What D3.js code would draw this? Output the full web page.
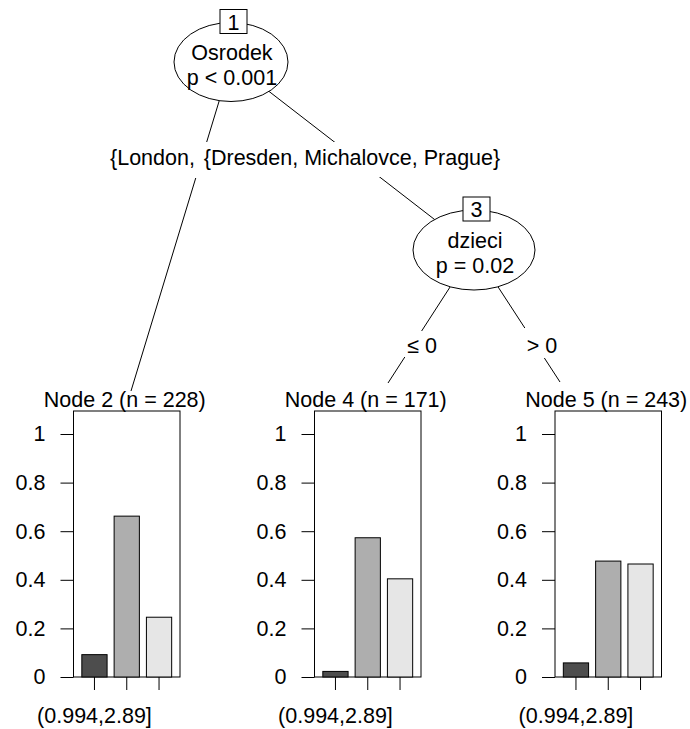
<!DOCTYPE html>
<html>
<head>
<meta charset="utf-8">
<script src="https://cdn.jsdelivr.net/npm/d3@7"></script>
<style>
  html, body { margin: 0; padding: 0; background: #fff; }
  svg { display: block; }
  text { font-family: "Liberation Sans", Arial, sans-serif; fill: #000; }
</style>
</head>
<body>
<svg id="chart" width="690" height="729"></svg>
<script>
// ---- tree content ----
const innerIds   = [1, 3];
const innerVars  = ["Osrodek", "dzieci"];
const innerPvals = ["p < 0.001", "p = 0.02"];

const terminalIds = [2, 4, 5];
const terminalN   = [228, 171, 243];

// class proportions in each terminal node
const classes     = ["c1", "c2", "c3"];
const propsNode2  = [0.092, 0.662, 0.246];
const propsNode4  = [0.023, 0.573, 0.404];
const propsNode5  = [0.058, 0.477, 0.465];

const xTickLabels = ["(0.994,2.89]", "", ""];
const yTicks      = [0, 0.2, 0.4, 0.6, 0.8, 1];

const splitLeftLabel  = "{London,";
const splitRightLabel = "{Dresden, Michalovce, Prague}";
const dzieciLeft  = "\u2264 0";
const dzieciRight = "> 0";

const barFill = ["#4D4D4D", "#AEAEAE", "#E6E6E6"];

// ---- layout ----
const FS = 21.5;
const svg = d3.select("#chart");
const gEdges = svg.append("g");
const gLabels = svg.append("g");
const gNodes = svg.append("g");
const gPanels = svg.append("g");

const innerPos = [{x: 231, y: 62, rx: 57, ry: 39.5}, {x: 474, y: 250, rx: 61, ry: 40}];
const panelLeft = [73.5, 314.5, 555];
const panelW = 106.5;
const panelTop = 411, panelBottom = 677;
const edgeEnds = [{x: 131, y: 391}, {x: 388, y: 383}, {x: 560, y: 382}];

// edges: 1 -> 2, 1 -> 3, 3 -> 4, 3 -> 5
const edges = [
  [innerPos[0], edgeEnds[0]],
  [innerPos[0], innerPos[1]],
  [innerPos[1], edgeEnds[1]],
  [innerPos[1], edgeEnds[2]]
];
gEdges.selectAll("line").data(edges).join("line")
  .attr("x1", d => d[0].x).attr("y1", d => d[0].y)
  .attr("x2", d => d[1].x).attr("y2", d => d[1].y)
  .attr("stroke", "#000").attr("stroke-width", 1);

// edge labels with white backing boxes
function edgeLabel(txt, cx, baseline, x0, x1, y0, y1, anchor) {
  gLabels.append("rect").attr("x", x0).attr("y", y0)
    .attr("width", x1 - x0).attr("height", y1 - y0).attr("fill", "#fff");
  gLabels.append("text").attr("x", cx).attr("y", baseline)
    .attr("text-anchor", anchor || "middle").style("font-size", FS + "px").text(txt);
}
edgeLabel(splitLeftLabel, 110, 165, 106, 300, 143, 178, "start");
edgeLabel(splitRightLabel, 352, 165, 200, 505, 142, 177);
edgeLabel(dzieciLeft, 422, 353, 403, 441, 331, 357);
edgeLabel(dzieciRight, 542, 353, 522, 563, 328, 358);

// inner nodes
innerPos.forEach((p, i) => {
  const g = gNodes.append("g");
  g.append("ellipse").attr("cx", p.x).attr("cy", p.y).attr("rx", p.rx).attr("ry", p.ry)
    .attr("fill", "#fff").attr("stroke", "#000").attr("stroke-width", 1);
  g.append("text").attr("x", p.x + 1).attr("y", p.y - 2 - (i ? 0 : 0))
    .attr("text-anchor", "middle").style("font-size", FS + "px").text(innerVars[i]);
  g.append("text").attr("x", p.x + 1).attr("y", p.y + 23)
    .attr("text-anchor", "middle").style("font-size", FS + "px").text(innerPvals[i]);
  const bw = 27, bh = 24;
  g.append("rect").attr("x", p.x + 2.5 - bw / 2).attr("y", p.y - p.ry - 13)
    .attr("width", bw).attr("height", bh)
    .attr("fill", "#fff").attr("stroke", "#000").attr("stroke-width", 1);
  g.append("text").attr("x", p.x + 2.5).attr("y", p.y - p.ry + 7)
    .attr("text-anchor", "middle").style("font-size", FS + "px").text(innerIds[i]);
});

// terminal bar panels
const y = d3.scaleLinear().domain([0, 1]).range([panelBottom, 434]);
const allProps = [propsNode2, propsNode4, propsNode5];

terminalIds.forEach((id, i) => {
  const left = panelLeft[i];
  const g = gPanels.append("g");
  const x = d3.scaleBand().domain(classes).range([left, left + panelW])
    .paddingInner(0.218).paddingOuter(0.258);

  g.append("rect").attr("x", left).attr("y", panelTop)
    .attr("width", panelW).attr("height", panelBottom - panelTop)
    .attr("fill", "#fff").attr("stroke", "#000").attr("stroke-width", 1);

  g.append("text").attr("x", left + panelW / 2 - 2).attr("y", 407)
    .attr("text-anchor", "middle").style("font-size", FS + "px")
    .text(`Node ${id} (n = ${terminalN[i]})`);

  g.selectAll("rect.bar").data(allProps[i]).join("rect").attr("class", "bar")
    .attr("x", (d, j) => x(classes[j]))
    .attr("y", d => y(d))
    .attr("width", x.bandwidth())
    .attr("height", d => y(0) - y(d))
    .attr("fill", (d, j) => barFill[j])
    .attr("stroke", "#000").attr("stroke-width", 1);

  const ya = g.append("g").attr("transform", `translate(${left},0)`)
    .call(d3.axisLeft(y).tickValues(yTicks).tickSize(13).tickPadding(15)
      .tickFormat(d3.format("~g")));
  ya.select(".domain").remove();

  const xa = g.append("g").attr("transform", `translate(0,${panelBottom})`)
    .call(d3.axisBottom(x).tickSize(13).tickPadding(18)
      .tickFormat((d, j) => xTickLabels[j]));
  xa.select(".domain").remove();

  [ya, xa].forEach(a => {
    a.selectAll("line").attr("stroke", "#000");
    a.selectAll("text").attr("fill", "#000")
      .style("font-size", FS + "px")
      .style("font-family", '"Liberation Sans", Arial, sans-serif');
  });
});
</script>
</body>
</html>
